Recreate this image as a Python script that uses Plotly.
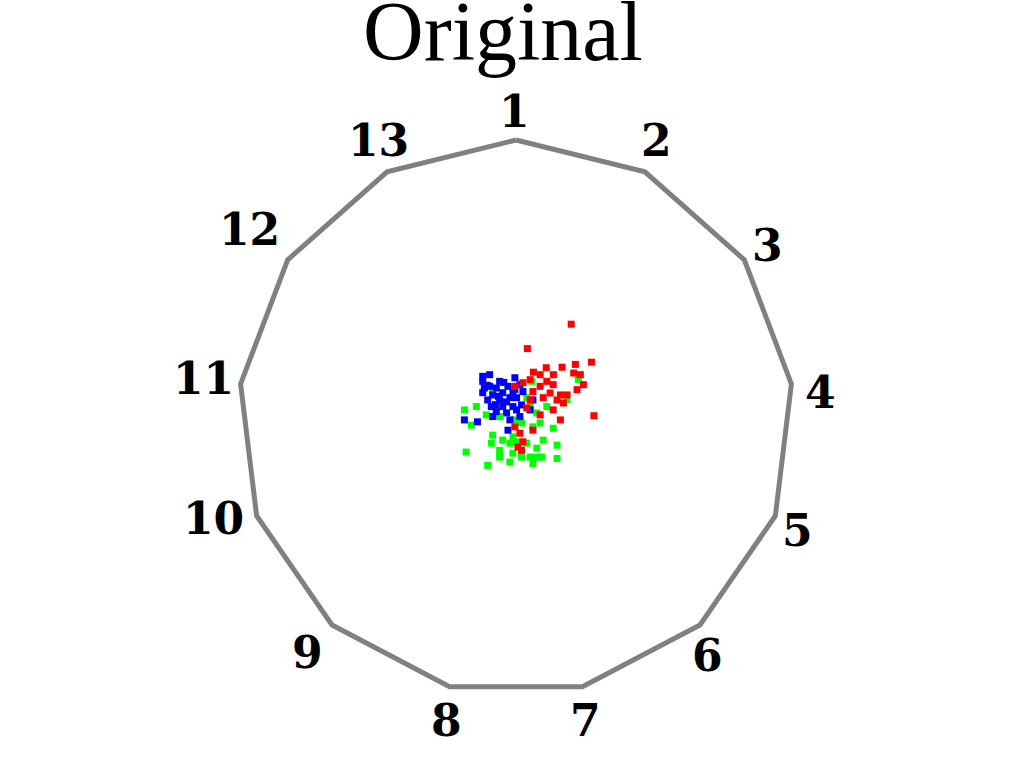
import numpy as np
import plotly.graph_objects as go

# Features (anchors of the RadViz polygon)
features = ["1", "2", "3", "4", "5", "6", "7", "8", "9", "10", "11", "12", "13"]

# Label positions (RadViz plane units)
label_x = [-0.004, 0.508, 0.908, 1.096, 1.013, 0.689, 0.249, -0.249, -0.750, -1.092, -1.128, -0.959, -0.497]
label_y = [1.101, 1.000, 0.621, 0.088, -0.406, -0.857, -1.091, -1.091, -0.846, -0.363, 0.142, 0.676, 1.000]

# Projected points per class
red_x = [0.199, 0.041, 0.272, 0.214, 0.166, 0.109, 0.063, 0.208, 0.232, 0.135, 0.087, 0.051, 0.025,
         0.111, 0.134, 0.243, 0.087, 0.220, -0.004, 0.061, 0.123, 0.160, 0.184, 0.098, 0.148, 0.051,
         0.171, 0.039, 0.134, 0.281, 0.160, 0.087, 0.014, 0.025, 0.007, -0.004, 0.061, 0.020]
red_y = [0.336, 0.248, 0.199, 0.191, 0.181, 0.179, 0.163, 0.160, 0.154, 0.154, 0.154, 0.136, 0.125,
         0.130, 0.118, 0.118, 0.112, 0.100, 0.112, 0.093, 0.088, 0.081, 0.081, 0.071, 0.063, 0.063,
         0.052, 0.034, 0.027, 0.006, -0.009, 0.009, -0.057, -0.088, -0.107, -0.034, -0.046, -0.119]

blue_x = [-0.095, -0.120, -0.120, -0.059, -0.004, -0.095, -0.071, -0.029, 0.014, -0.120, -0.084,
          -0.048, -0.011, 0.025, -0.102, -0.059, -0.022, 0.002, 0.061, -0.089, -0.048, -0.011,
          0.020, -0.071, -0.034, 0.002, -0.186, -0.139, -0.084, -0.022, 0.014, -0.029, 0.051,
          -0.104, -0.064, -0.034, -0.074, -0.004, -0.044, -0.114]
blue_y = [0.154, 0.148, 0.130, 0.130, 0.143, 0.112, 0.106, 0.112, 0.118, 0.089, 0.081, 0.089, 0.089,
          0.093, 0.063, 0.063, 0.071, 0.071, 0.063, 0.039, 0.039, 0.039, 0.045, 0.021, 0.016, 0.027,
          -0.009, -0.016, 0.003, -0.009, 0.003, -0.046, 0.027, 0.116, 0.076, 0.056, 0.046, 0.101,
          0.126, 0.106]

green_x = [0.225, 0.057, -0.084, -0.186, -0.143, -0.161, -0.107, -0.059, 0.039, 0.051, 0.075, 0.111,
           0.087, 0.061, 0.098, 0.134, 0.184, -0.004, 0.020, -0.011, -0.022, 0.002, -0.084, -0.089,
           -0.048, -0.180, -0.059, -0.059, -0.011, 0.020, 0.051, 0.075, 0.093, 0.148, 0.148, 0.061,
           -0.102, -0.022, 0.039, 0.075]
green_y = [0.136, 0.130, 0.100, 0.027, 0.039, -0.028, 0.009, 0.003, 0.071, 0.039, 0.016, 0.039,
           -0.020, -0.034, -0.082, -0.039, 0.063, -0.009, -0.020, -0.070, -0.093, -0.088, -0.064,
           -0.093, -0.082, -0.125, -0.119, -0.143, -0.129, -0.143, -0.143, -0.143, -0.143, -0.100,
           -0.148, -0.166, -0.173, -0.161, -0.093, -0.111]

# Polygon vertices from the feature anchors (unit circle, feature 1 at top, clockwise)
n = len(features)
ang = np.pi / 2 - 2 * np.pi * np.arange(n) / n
vx = np.cos(ang)
vy = np.sin(ang)

fig = go.Figure()
fig.add_trace(go.Scatter(
    x=list(vx) + [vx[0]], y=list(vy) + [vy[0]], mode="lines",
    line=dict(color="#808080", width=5), hoverinfo="skip", showlegend=False))

for xs, ys, col in [(green_x, green_y, "#00ff00"), (blue_x, blue_y, "#0000ff"), (red_x, red_y, "#ff0000")]:
    fig.add_trace(go.Scatter(
        x=xs, y=ys, mode="markers",
        marker=dict(symbol="square", size=7, color=col, line=dict(width=0)),
        showlegend=False))

for lab, lx, ly in zip(features, label_x, label_y):
    fig.add_annotation(x=lx, y=ly, text="<b>" + lab + "</b>", showarrow=False,
                       xanchor="center", yanchor="middle",
                       font=dict(family="DejaVu Serif", size=44, color="black"))

fig.add_annotation(x=503 / 1024, y=1 - 32 / 768, xref="paper", yref="paper", text="Original",
                   showarrow=False, xanchor="center", yanchor="middle",
                   font=dict(family="Liberation Serif", size=84, color="black"))

fig.update_layout(
    width=1024, height=768,
    margin=dict(l=0, r=0, t=0, b=0),
    paper_bgcolor="white", plot_bgcolor="white",
    xaxis=dict(range=[-1.8601, 1.8313], visible=False, showgrid=False, zeroline=False),
    yaxis=dict(range=[-1.2639, 1.5047], visible=False, showgrid=False, zeroline=False),
)

fig.write_html("out.html")
